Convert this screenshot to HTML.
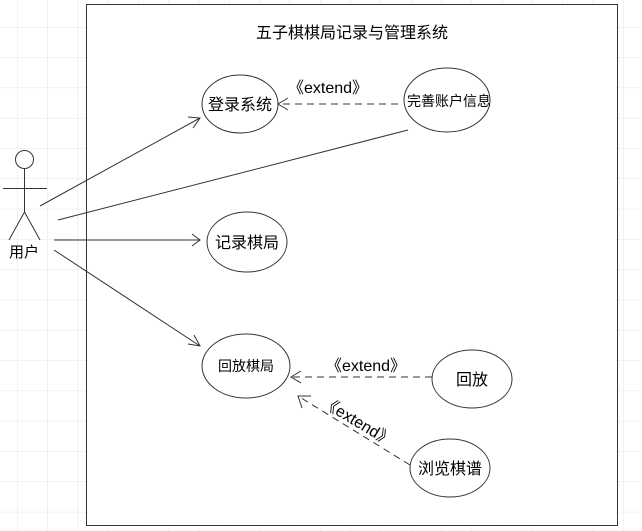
<!DOCTYPE html>
<html><head><meta charset="utf-8"><style>
body{margin:0;background:#fff}
svg{display:block}
text{font-family:"Liberation Sans","Noto Sans CJK SC",sans-serif;fill:#000}
</style></head><body>
<svg width="642" height="531" xmlns="http://www.w3.org/2000/svg">
<defs>
<pattern id="g" x="17" y="27" width="30.3" height="30.3" patternUnits="userSpaceOnUse">
<path d="M0 0V30.3M0 0H30.3" stroke="#e4e4e4" stroke-width="1" fill="none"/>
</pattern>
</defs>
<rect width="642" height="531" fill="#fff"/>
<rect width="642" height="531" fill="url(#g)"/>
<rect x="86.5" y="4.5" width="531" height="521" fill="#fff" stroke="#333" stroke-width="1"/>
<text x="352" y="38" font-size="16" text-anchor="middle">五子棋棋局记录与管理系统</text>

<g fill="none" stroke="#333" stroke-width="1">
<circle cx="24.5" cy="159.5" r="9"/>
<path d="M24.5 169V212M3 188.5H47M24.5 212L9 240M24.5 212L40 240"/>
<ellipse cx="240" cy="104" rx="38" ry="29"/>
<ellipse cx="447" cy="100" rx="43" ry="32"/>
<ellipse cx="247" cy="242" rx="40" ry="30"/>
<ellipse cx="246" cy="366" rx="44" ry="32"/>
<ellipse cx="472" cy="379" rx="40" ry="29"/>
<ellipse cx="450" cy="468" rx="40" ry="29"/>
<path d="M40 206L200 118M188 117L200 118L193 128"/>
<path d="M58 220L408 130"/>
<path d="M54 240H200M192 234L200 240L192 246"/>
<path d="M54 250L200 346M188 344L200 346L194 335"/>
<path d="M398 104H278" stroke-dasharray="7,5"/>
<path d="M288 98L278 104L288 110"/>
<path d="M432 377H291" stroke-dasharray="7,5"/>
<path d="M301 371L291 377L301 383"/>
<path d="M410 465L298 396" stroke-dasharray="7,5"/>
<path d="M302 408L298 396L311 396"/>
</g>

<text x="24" y="257" font-size="15" text-anchor="middle">用户</text>
<text x="240" y="110" font-size="16" text-anchor="middle">登录系统</text>
<text x="449" y="106" font-size="14" text-anchor="middle">完善账户信息</text>
<text x="247" y="248" font-size="16" text-anchor="middle">记录棋局</text>
<text x="246" y="371" font-size="14" text-anchor="middle">回放棋局</text>
<text x="472" y="385" font-size="16" text-anchor="middle">回放</text>
<text x="450" y="474" font-size="16" text-anchor="middle">浏览棋谱</text>
<text x="328" y="93" font-size="16" text-anchor="middle">《extend》</text>
<text x="366" y="371" font-size="16" text-anchor="middle">《extend》</text>
<text x="358" y="427" font-size="16" text-anchor="middle" transform="rotate(31 358 421)">《extend》</text>
</svg>
</body></html>
